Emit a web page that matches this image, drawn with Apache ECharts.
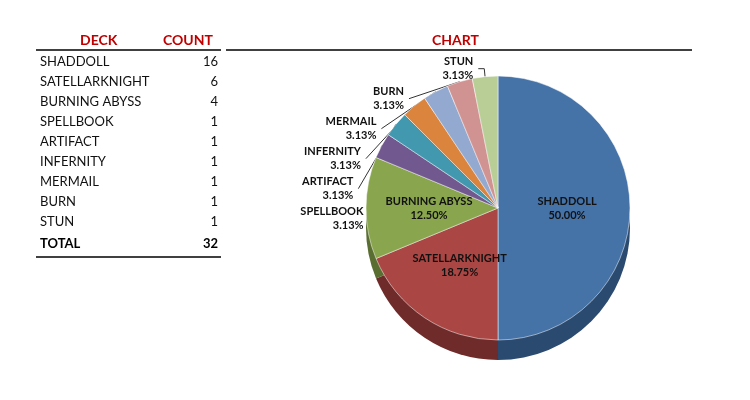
<!DOCTYPE html>
<html>
<head>
<meta charset="utf-8">
<script src="https://cdn.jsdelivr.net/npm/echarts@6/dist/echarts.min.js"></script>
<style>html,body{margin:0;background:#fff}#main{width:750px;height:400px}</style>
</head>
<body>
<div id="main"></div>
<script>
const decks = ['SHADDOLL', 'SATELLARKNIGHT', 'BURNING ABYSS', 'SPELLBOOK', 'ARTIFACT', 'INFERNITY', 'MERMAIL', 'BURN', 'STUN'];
const counts = [16, 6, 4, 1, 1, 1, 1, 1, 1];
const colors = ['#4572a7', '#aa4643', '#89a54e', '#71588f', '#4198af', '#db843d', '#93a9cf', '#d19392', '#b9cd96'];
const darkColors = ['#2b4a70', '#6e2b29', '#5a6e31', '#4a395e', '#2a6372', '#8f5527', '#607088', '#8a5f5e', '#7a8862'];

const total = counts.reduce((a, b) => a + b, 0);
const font = 'Lato';
const red = '#c00000';

// table drawn as graphic texts
const graphics = [
  { type: 'text', left: 80, top: 33, style: { text: 'DECK', fill: red, font: 'bold 14px ' + font } },
  { type: 'text', left: 163, top: 33, style: { text: 'COUNT', fill: red, font: 'bold 14px ' + font } },
  { type: 'text', left: 432, top: 33, style: { text: 'CHART', fill: red, font: 'bold 14px ' + font } },
  { type: 'line', shape: { x1: 36, y1: 50, x2: 221, y2: 50 }, style: { stroke: '#000', lineWidth: 1.5 } },
  { type: 'line', shape: { x1: 226, y1: 50, x2: 692, y2: 50 }, style: { stroke: '#000', lineWidth: 1.5 } },
  { type: 'line', shape: { x1: 36, y1: 257, x2: 221, y2: 257 }, style: { stroke: '#000', lineWidth: 1.5 } }
];
decks.forEach((d, i) => {
  graphics.push({ type: 'text', left: 40, top: 55 + i * 20, style: { text: d, fill: '#111', font: '13px ' + font } });
  graphics.push({ type: 'text', right: 532, top: 55 + i * 20, style: { text: String(counts[i]), fill: '#111', font: '13px ' + font, align: 'right' } });
});
graphics.push({ type: 'text', left: 40, top: 237, style: { text: 'TOTAL', fill: '#000', font: 'bold 13px ' + font } });
graphics.push({ type: 'text', right: 532, top: 237, style: { text: String(total), fill: '#000', font: 'bold 13px ' + font, align: 'right' } });

const pieData = decks.map((d, i) => ({
  name: d,
  value: counts[i],
  itemStyle: { color: colors[i] },
  label: i < 3 ? { position: 'inside' } : { position: 'outside' },
  labelLine: { show: i >= 3 }
}));
const depthData = decks.map((d, i) => ({ name: d, value: counts[i], itemStyle: { color: darkColors[i] } }));

const chart = echarts.init(document.getElementById('main'));
chart.setOption({
  animation: false,
  graphic: graphics,
  series: [
    {
      type: 'pie', center: [498, 228], radius: 132, startAngle: 90, clockwise: true,
      silent: true, label: { show: false }, data: depthData, z: 1
    },
    {
      type: 'pie', center: [498, 208], radius: 132, startAngle: 90, clockwise: true,
      z: 2,
      label: {
        formatter: p => p.name + '\n' + (p.value / total * 100).toFixed(2) + '%',
        fontFamily: font, fontSize: 11, fontWeight: 'bold', color: '#111', lineHeight: 14, align: 'center'
      },
      labelLine: { length: 8, length2: 6, lineStyle: { color: '#333' } },
      itemStyle: { borderColor: '#fff', borderWidth: 0.5 },
      data: pieData
    }
  ]
});
</script>
</body>
</html>
